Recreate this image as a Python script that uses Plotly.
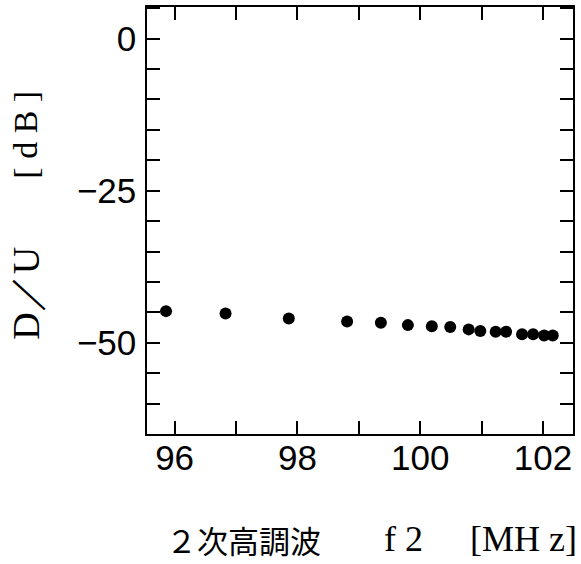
import plotly.graph_objects as go

# Data
freq_mhz = [95.86, 96.83, 97.86, 98.81, 99.36, 99.80, 100.19, 100.49,
            100.79, 100.98, 101.23, 101.40, 101.66, 101.84, 102.02, 102.16]
du_db = [-44.8, -45.2, -46.0, -46.5, -46.7, -47.1, -47.3, -47.4,
         -47.8, -48.05, -48.2, -48.2, -48.6, -48.6, -48.8, -48.8]

x_tickvals = [96, 97, 98, 99, 100, 101, 102]
x_ticktext = ["96", "", "98", "", "100", "", "102"]
y_tickvals = [-65, -60, -55, -50, -45, -40, -35, -30, -25, -20, -15, -10, -5, 0, 5]
y_ticktext = ["", "", "", "−50", "", "", "", "", "−25", "", "", "", "", "0", ""]

x_title_left = "２次高調波"
x_title_mid = "f 2"
x_title_right = "[MH z]"
y_title_bottom = "D／U"
y_title_top = "[ d B ]"

tick_font = dict(family="Liberation Sans, Arial", size=35, color="black")
serif = "Liberation Serif, Times New Roman, serif"

fig = go.Figure()
fig.add_trace(go.Scatter(
    x=freq_mhz, y=du_db, mode="markers",
    marker=dict(color="black", size=12, line=dict(width=0)),
    showlegend=False,
))

axis_common = dict(
    showline=True, linecolor="black", linewidth=1.5, mirror="ticks",
    ticks="inside", ticklen=13, tickwidth=1.5, tickcolor="black",
    showgrid=False, zeroline=False, tickfont=tick_font,
)

fig.update_xaxes(range=[95.55, 102.49], tickmode="array",
                 tickvals=x_tickvals, ticktext=x_ticktext,
                 ticklabelstandoff=-8, **axis_common)
fig.update_yaxes(range=[-65, 5.2], tickmode="array",
                 tickvals=y_tickvals, ticktext=y_ticktext,
                 ticklabelstandoff=2, **axis_common)

title_y = -0.246
fig.add_annotation(text=x_title_left, xref="paper", yref="paper",
                   x=0.04, y=title_y, xanchor="left", yanchor="middle",
                   showarrow=False,
                   font=dict(family="Noto Sans CJK JP", size=31, color="black"))
fig.add_annotation(text=x_title_mid, xref="paper", yref="paper",
                   x=0.552, y=title_y, xanchor="left", yanchor="middle",
                   showarrow=False,
                   font=dict(family=serif, size=36, color="black"))
fig.add_annotation(text=x_title_right, xref="paper", yref="paper",
                   x=1.014, y=title_y, xanchor="right", yanchor="middle",
                   showarrow=False,
                   font=dict(family=serif, size=36, color="black"))
fig.add_annotation(text=y_title_bottom, xref="paper", yref="paper",
                   x=-0.285, y=0.33, xanchor="center", yanchor="middle",
                   textangle=-90, showarrow=False,
                   font=dict(family=serif, size=38, color="black"))
fig.add_annotation(text=y_title_top, xref="paper", yref="paper",
                   x=-0.285, y=0.70, xanchor="center", yanchor="middle",
                   textangle=-90, showarrow=False,
                   font=dict(family=serif, size=34, color="black"))

fig.update_layout(
    width=581, height=564,
    margin=dict(l=147, r=8, t=5, b=130),
    paper_bgcolor="white", plot_bgcolor="white",
)

fig.write_html("out.html", config={"displayModeBar": False},
               post_script="document.body.style.margin='0';document.body.style.padding='0';")
